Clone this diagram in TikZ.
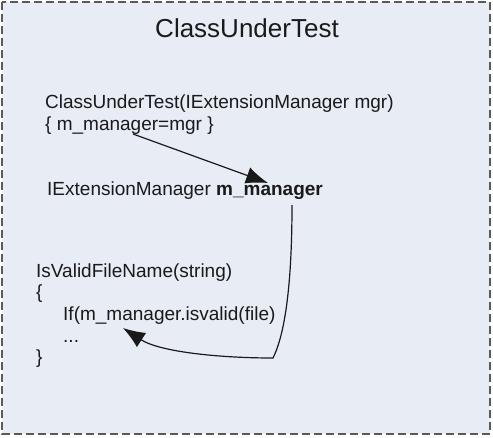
\documentclass[tikz,border=0pt]{standalone}
\usepackage{fontspec}
\setmainfont{Liberation Sans}
\usetikzlibrary{arrows.meta}
\definecolor{bgfill}{HTML}{E7ECF5}
\definecolor{bordergray}{HTML}{5A5A5A}
\definecolor{txt}{HTML}{1A1A1A}
\tikzset{
  code/.style={anchor=base west, inner sep=0pt, text=txt, font=\fontsize{19}{22}\selectfont},
  titletext/.style={anchor=base, inner sep=0pt, text=txt, font=\fontsize{26}{30}\selectfont},
  link/.style={draw=txt, line width=1.2pt, -{Latex[length=22pt,width=17pt]}}
}
\begin{document}
\begin{tikzpicture}[x=1pt,y=-1pt]
\useasboundingbox (0,0) rectangle (493,437);
\draw[fill=bgfill, draw=bordergray, line width=1.6pt, dash pattern=on 8pt off 4pt] (2,2) rectangle (490,434);
\node[titletext] (title) at (247,37) {ClassUnderTest};
\node[code] (ctor1) at (45,108) {ClassUnderTest(IExtensionManager mgr)};
\node[code] (ctor2) at (45,130) {\{ m\_manager=mgr \}};
\node[code] (field) at (47,195) {IExtensionManager \textbf{m\_manager}};
\node[code] (isvalid) at (36,277) {IsValidFileName(string)};
\node[code] (lbrace) at (36,298) {\{};
\node[code] (ifline) at (63,320) {If(m\_manager.isvalid(file)};
\node[code] (dots) at (63,342) {...};
\node[code] (rbrace) at (36,363) {\}};
\coordinate (a1s) at (133,134);
\coordinate (a1e) at (268,183);
\coordinate (a2s) at (292,205);
\coordinate (a2c) at (273,358);
\coordinate (a2e) at (123,328);
\draw[link] (a1s) -- (a1e);
\draw[link] (a2s) .. controls (292,300) and (282,340) .. (a2c)
  .. controls (220,358) and (160,352) .. (a2e);
\end{tikzpicture}
\end{document}
